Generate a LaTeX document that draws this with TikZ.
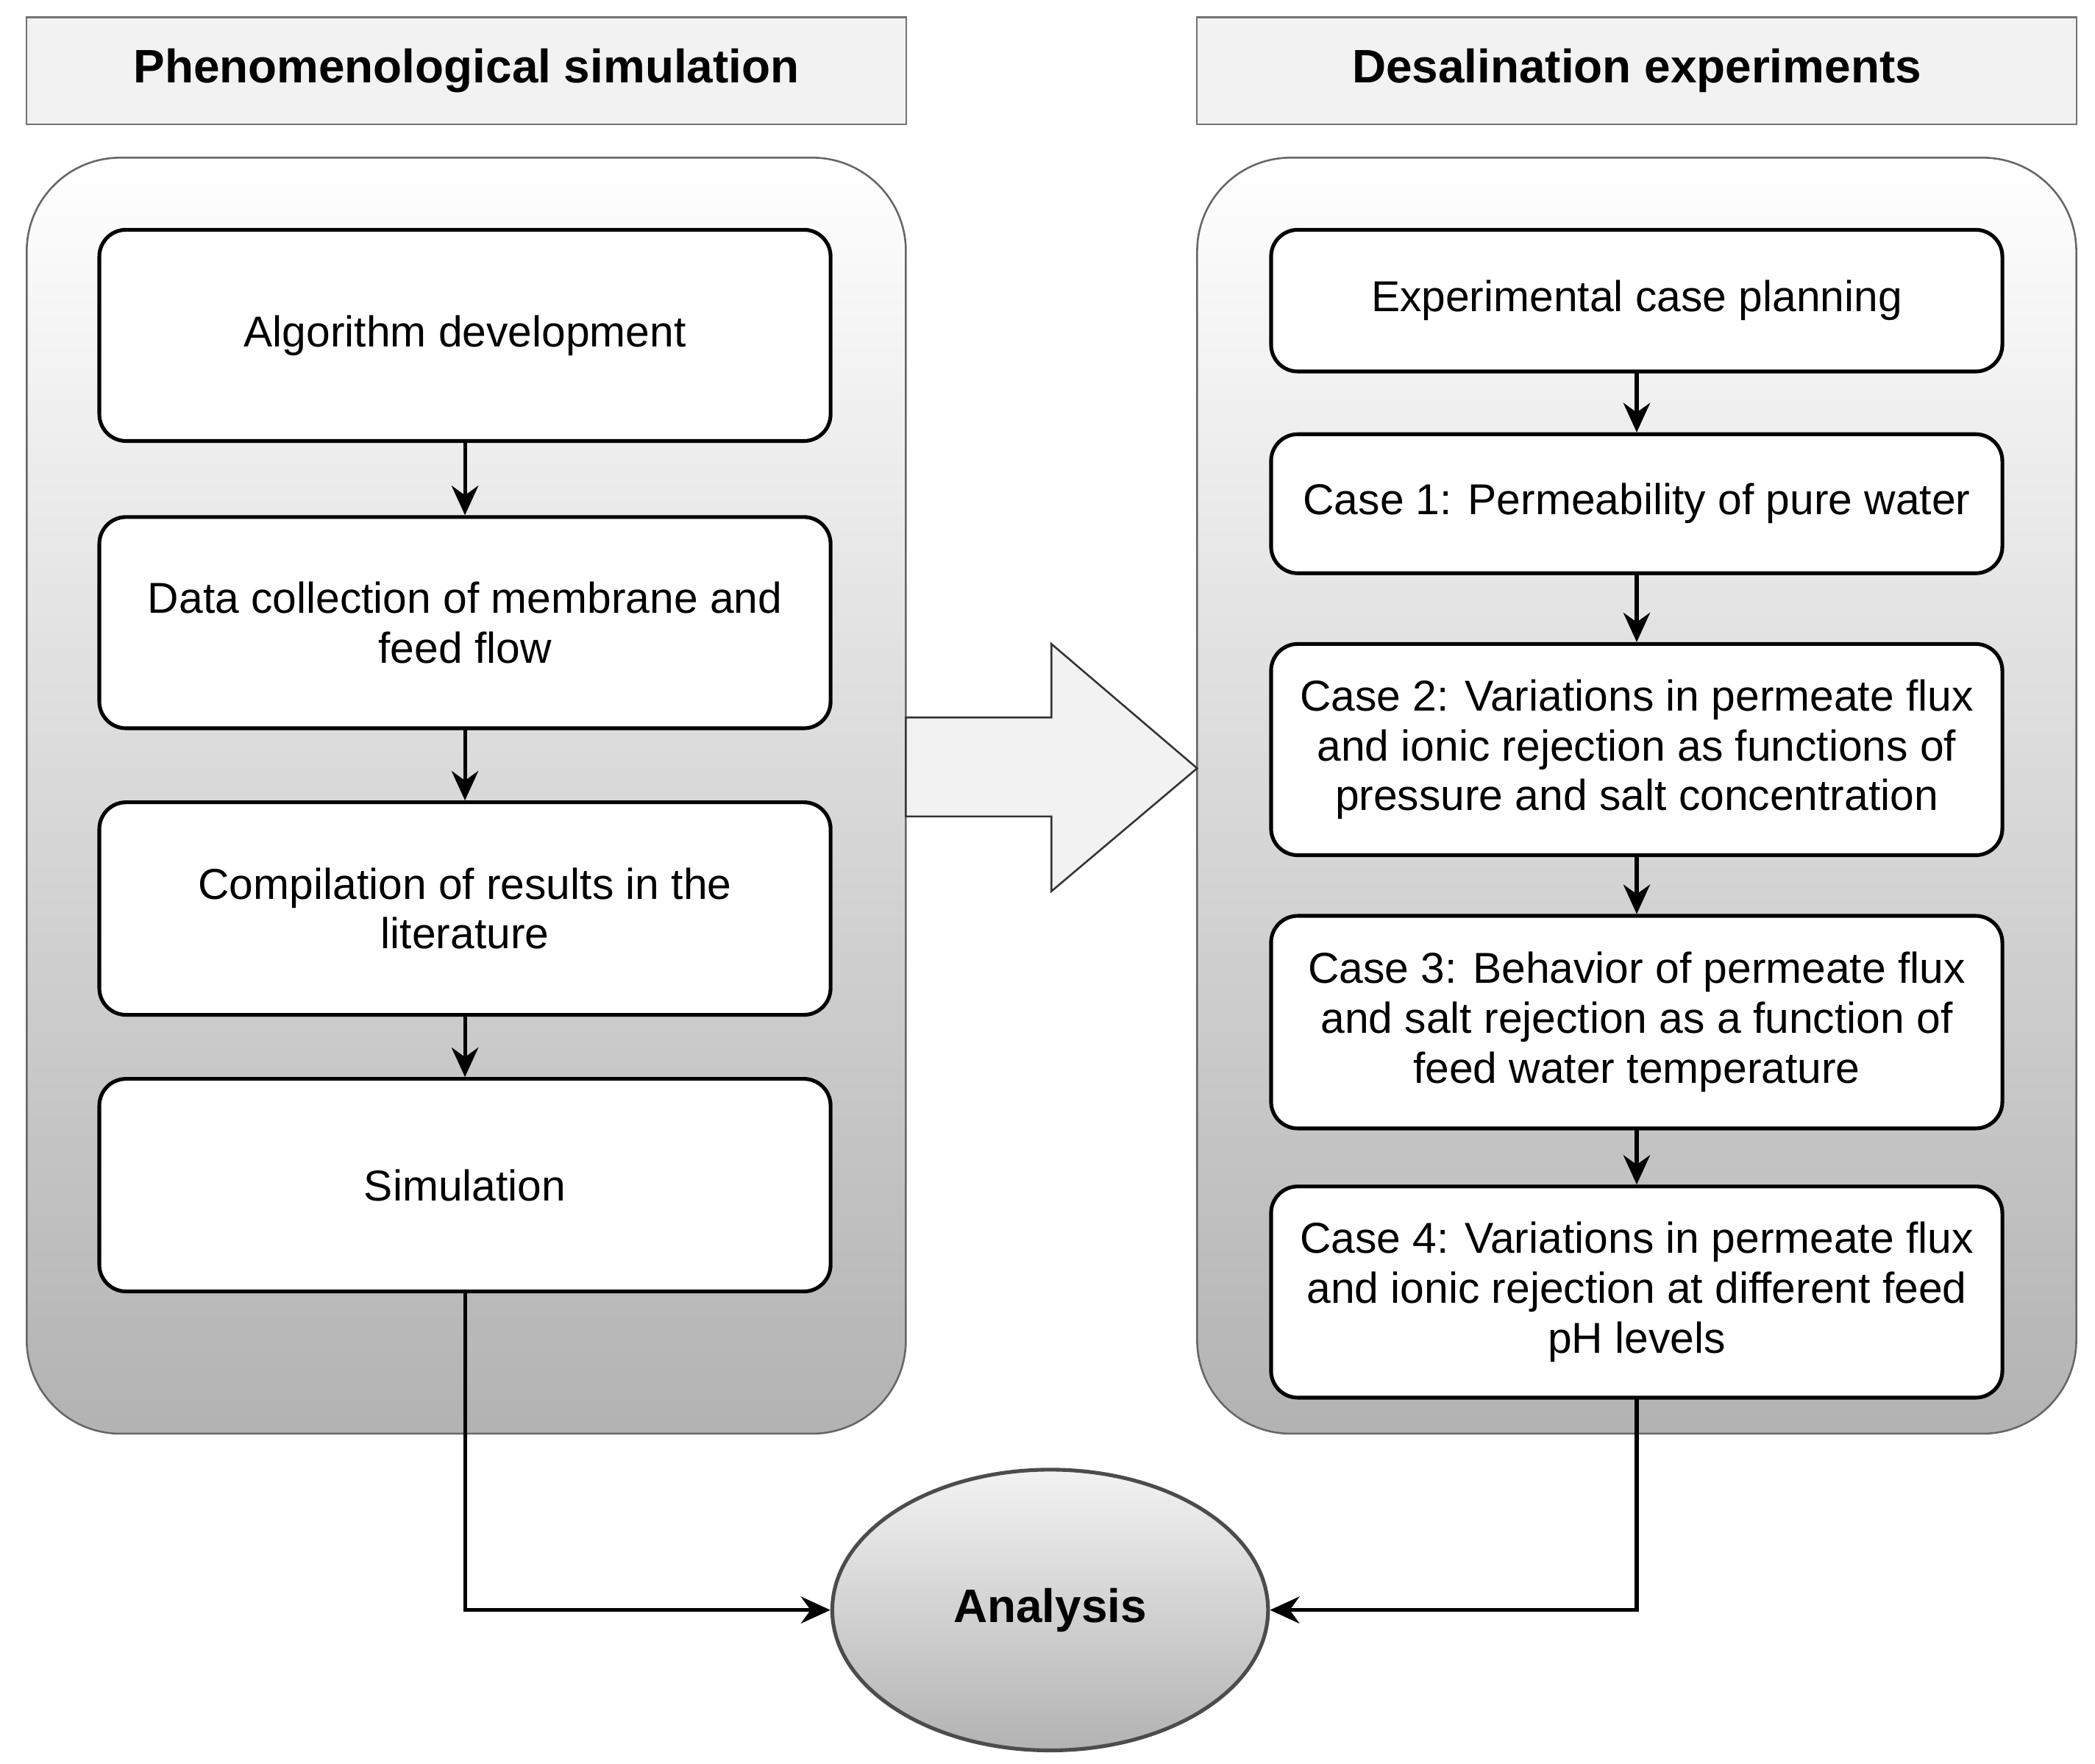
\documentclass[tikz,border=0pt]{standalone}
\usepackage{fontspec}
\setmainfont{Liberation Sans}
\usetikzlibrary{shapes.geometric,arrows.meta}
\begin{document}
\begin{tikzpicture}[x=0.01cm, y=-0.01cm, line cap=round,
  head/.style={draw=black!55, fill=black!5, minimum width=6.58cm, minimum height=0.8cm, font=\fontsize{10}{12}\selectfont\bfseries},
  group/.style={draw=black!60, rounded corners=0.7cm, top color=white, bottom color=black!30},
  stage/.style={draw, thick, fill=white, rounded corners=0.2cm, minimum width=5.47cm, align=center, font=\fontsize{9.2}{10.6}\selectfont},
  flow/.style={-{Stealth[length=2.2mm,width=2mm]}, thick}]
  \useasboundingbox (0,0) rectangle (1568,1320);
  % headers
  \node[head] (hsim) at (349,53) {Phenomenological simulation};
  \node[head] (hexp) at (1225,53) {Desalination experiments};
  % containers
  \path[group] (20,118) rectangle (678,1073);
  \path[group] (896,118) rectangle (1554,1073);
  % big arrow
  \draw[draw=black!80, fill=black!5] (678,537) -- (787,537) -- (787,482) -- (896,575)
    -- (787,667) -- (787,611) -- (678,611) -- cycle;
  % simulation stages
  \node[stage, minimum height=1.58cm] (alg) at (348,251) {Algorithm development};
  \node[stage, minimum height=1.58cm] (data) at (348,466) {Data collection of membrane and\\feed flow};
  \node[stage, minimum height=1.59cm] (comp) at (348,680) {Compilation of results in the\\literature};
  \node[stage, minimum height=1.59cm] (sim) at (348,887) {Simulation};
  % experiment stages
  \node[stage, minimum height=1.06cm] (plan) at (1225,225) {Experimental case planning};
  \node[stage, minimum height=1.04cm] (case1) at (1225,377) {Case 1: Permeability of pure water};
  \node[stage, minimum height=1.58cm] (case2) at (1225,561) {Case 2: Variations in permeate flux\\and ionic rejection as functions of\\pressure and salt concentration};
  \node[stage, minimum height=1.59cm] (case3) at (1225,765) {Case 3: Behavior of permeate flux\\and salt rejection as a function of\\feed water temperature};
  \node[stage, minimum height=1.58cm] (case4) at (1225,967) {Case 4: Variations in permeate flux\\and ionic rejection at different feed\\pH levels};
  % analysis
  \node[ellipse, draw=black!70, thick, top color=black!5, bottom color=black!30, minimum width=3.26cm, minimum height=2.1cm, font=\fontsize{10}{12}\selectfont\bfseries] (ana) at (786,1205) {Analysis};
  % connectors
  \draw[flow] (alg) -- (data);
  \draw[flow] (data) -- (comp);
  \draw[flow] (comp) -- (sim);
  \draw[flow] (plan) -- (case1);
  \draw[flow] (case1) -- (case2);
  \draw[flow] (case2) -- (case3);
  \draw[flow] (case3) -- (case4);
  \draw[flow] (sim.south) |- (ana.west);
  \draw[flow] (case4.south) |- (ana.east);
\end{tikzpicture}
\end{document}
